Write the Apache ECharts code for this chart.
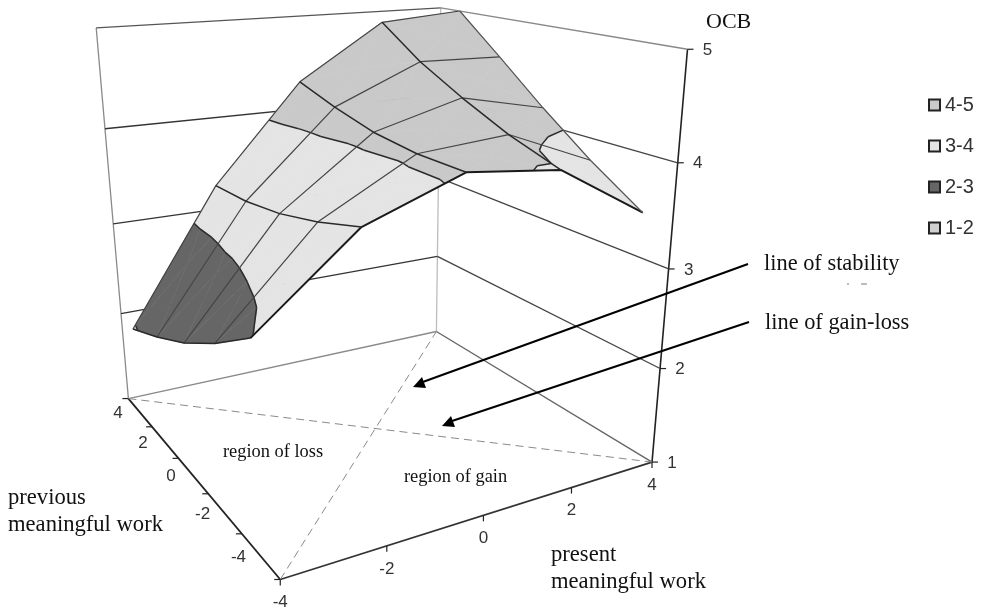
<!DOCTYPE html>
<html><head><meta charset="utf-8">
<style>html,body{margin:0;background:#fff}#c{width:985px;height:611px}</style>
<script src="https://cdn.jsdelivr.net/npm/echarts@6/dist/echarts.min.js"></script>
</head><body><div id="c"></div>
<script>
// ---- data ----
const presentValues = [-4, -2, 0, 2, 4];
const previousValues = [-4, -2, 0, 2, 4];
const ocbAtPrevMinus4 = [2.98, 3.74, 4.07, 3.97, 3.44];
const ocbAtPrevMinus2 = [2.65, 3.58, 4.07, 4.14, 3.78];
const ocbAtPrev0 = [2.37, 3.46, 4.12, 4.36, 4.17];
const ocbAtPrev2 = [2.15, 3.39, 4.23, 4.61, 4.59];
const ocbAtPrev4 = [1.96, 3.37, 4.37, 4.93, 5.00];
const ocbRows = [ocbAtPrevMinus4, ocbAtPrevMinus2, ocbAtPrev0, ocbAtPrev2, ocbAtPrev4];
const ocbTicks = [1, 2, 3, 4, 5];
const bandNames = ['4-5', '3-4', '2-3', '1-2'];
const bandLow = [4, 3, 2, 1];
const bandHigh = [5.01, 4, 3, 2];
const bandColors = ['#c9c9c9', '#e4e4e4', '#666666', '#cfcfcf'];

// ---- the view: a fixed perspective camera of the 3-D box ----
const cam = [48.07798, -10.16097, -10.93605, 375.8314, -2.15006, -3.91499, -95.99798, 512.63476, 0.01951, 0.03335, -0.02773];
function project(p) {
  const d = cam[8] * p[0] + cam[9] * p[1] + cam[10] * p[2] + 1;
  return [(cam[0] * p[0] + cam[1] * p[1] + cam[2] * p[2] + cam[3]) / d,
          (cam[4] * p[0] + cam[5] * p[1] + cam[6] * p[2] + cam[7]) / d];
}
// the previous-work axis is a category axis: five bands, values sit in the band centres
const bandPos = v => v * 0.8;
const vertex = (i, j) => [presentValues[i], bandPos(previousValues[j]), ocbRows[j][i]];

// triangles of a cell, fanned from its centre
function cellTriangles(i, j) {
  const q = [vertex(i, j), vertex(i + 1, j), vertex(i + 1, j + 1), vertex(i, j + 1)];
  const c = [0, 1, 2].map(k => (q[0][k] + q[1][k] + q[2][k] + q[3][k]) / 4);
  return q.map((a, k) => [a, q[(k + 1) % 4], c]);
}
const lerp = (a, b, t) => [a[0] + (b[0] - a[0]) * t, a[1] + (b[1] - a[1]) * t, a[2] + (b[2] - a[2]) * t];
function clip(poly, level, keepAbove) {
  const out = [], inside = p => keepAbove ? p[2] >= level : p[2] <= level;
  poly.forEach((a, k) => {
    const b = poly[(k + 1) % poly.length];
    if (inside(a)) out.push(a);
    if (inside(a) !== inside(b)) out.push(lerp(a, b, (level - a[2]) / (b[2] - a[2])));
  });
  return out;
}
const cells = [];
for (let j = 0; j < 4; j++) for (let i = 0; i < 4; i++) cells.push([i, j]);

function bandSeries(k) {
  return {
    type: 'custom', name: bandNames[k], coordinateSystem: 'none', silent: true, z: 3, animation: false,
    itemStyle: { color: bandColors[k], borderColor: '#222', borderWidth: 2 },
    data: cells,
    renderItem(params, api) {
      const children = [];
      cellTriangles(api.value(0), api.value(1)).forEach(t => {
        const poly = clip(clip(t, bandLow[k], true), bandHigh[k], false);
        if (poly.length > 2) children.push({
          type: 'polygon', shape: { points: poly.map(project) },
          style: { fill: bandColors[k], stroke: bandColors[k], lineWidth: 0.6 }
        });
      });
      return { type: 'group', children };
    }
  };
}
// contour lines between the bands
const contourLevels = [2, 3, 4];
const contourSeries = {
  type: 'custom', name: 'contours', coordinateSystem: 'none', silent: true, z: 4, animation: false, data: cells,
  renderItem(params, api) {
    const children = [];
    cellTriangles(api.value(0), api.value(1)).forEach(t => contourLevels.forEach(L => {
      const pts = [];
      t.forEach((a, k) => {
        const b = t[(k + 1) % 3];
        if ((a[2] - L) * (b[2] - L) < 0) pts.push(project(lerp(a, b, (L - a[2]) / (b[2] - a[2]))));
      });
      if (pts.length === 2) children.push({ type: 'polyline', shape: { points: pts }, style: { fill: null, stroke: '#2a2a2a', lineWidth: 1.5 } });
    }));
    return { type: 'group', children };
  }
};
// mesh lines of the surface
const meshLines = [];
presentValues.forEach((_, j) => meshLines.push(['row', j]));
presentValues.forEach((_, i) => meshLines.push(['col', i]));
const meshSeries = {
  type: 'custom', name: 'mesh', coordinateSystem: 'none', silent: true, z: 5, animation: false,
  data: meshLines.map((m, n) => [n]),
  renderItem(params) {
    const [kind, n] = meshLines[params.dataIndex];
    const pts = presentValues.map((_, k) => project(kind === 'row' ? vertex(k, n) : vertex(n, k)));
    let stroke = '#444', lineWidth = 1.2;
    if (kind === 'col') { stroke = '#2a2a2a'; lineWidth = 1.5; }
    if (kind === 'row' && n === 0) { stroke = '#1a1a1a'; lineWidth = 2; }
    if (kind === 'col' && n === 4) { stroke = '#555'; lineWidth = 1.2; }
    return { type: 'polyline', shape: { points: pts }, style: { fill: null, stroke, lineWidth, lineJoin: 'round' } };
  }
};
// the box: walls, floor, axes
const boxLines = [
  // world from, world to, colour, width, dashed
  [[-4, 4, 1], [-4, 4, 5], '#8a8a8a', 1.3],
  [[4, 4, 1], [4, 4, 5], '#bdbdbd', 1.3],
  [[4, -4, 1], [4, -4, 5], '#222', 1.6],
  [[-4, -4, 1], [-4, 4, 1], '#222', 1.8],
  [[-4, -4, 1], [4, -4, 1], '#333', 1.8],
  [[-4, 4, 1], [4, 4, 1], '#8a8a8a', 1.4],
  [[4, 4, 1], [4, -4, 1], '#666', 1.4],
  [[-4, 4, 1], [4, -4, 1], '#8a8a8a', 1, true],
  [[-4, -4, 1], [4, 4, 1], '#8a8a8a', 1, true]
];
[2, 3, 4, 5].forEach(z => {
  boxLines.push([[-4, 4, z], [4, 4, z], z === 5 ? '#555' : '#333', 1.3]);
  boxLines.push([[4, 4, z], [4, -4, z], z === 5 ? '#888' : '#444', 1.3]);
});
const boxSeries = {
  type: 'custom', name: 'box', coordinateSystem: 'none', silent: true, z: 2, animation: false,
  data: boxLines.map((b, n) => [n]),
  renderItem(params) {
    const b = boxLines[params.dataIndex], a = project(b[0]), c = project(b[1]);
    return { type: 'line', shape: { x1: a[0], y1: a[1], x2: c[0], y2: c[1] },
      style: { stroke: b[2], lineWidth: b[3], lineDash: b[4] ? [8, 5] : null } };
  }
};
// ticks and tick labels
const prevBandEdges = [-4, -2.4, -0.8, 0.8, 2.4, 4];
const tickItems = [];
presentValues.forEach(v => tickItems.push({ at: [v, -4, 1], dx: 0, dy: 6, label: String(v), lx: 0, ly: 23 }));
prevBandEdges.forEach(v => tickItems.push({ at: [-4, v, 1], dx: -6, dy: 0 }));
previousValues.forEach(v => tickItems.push({ at: [-4, bandPos(v), 1], label: String(v), lx: -22, ly: 1 }));
ocbTicks.forEach(v => tickItems.push({ at: [4, -4, v], dx: 6, dy: 0, label: String(v), lx: 20, ly: 1 }));
const tickSeries = {
  type: 'custom', name: 'ticks', coordinateSystem: 'none', silent: true, z: 6, animation: false,
  data: tickItems.map((b, n) => [n]),
  renderItem(params) {
    const t = tickItems[params.dataIndex], p = project(t.at), children = [];
    if (t.dx !== undefined) children.push({ type: 'line', shape: { x1: p[0], y1: p[1], x2: p[0] + t.dx, y2: p[1] + t.dy }, style: { stroke: '#222', lineWidth: 1.2 } });
    if (t.label !== undefined) children.push({ type: 'text', x: p[0] + t.lx, y: p[1] + t.ly,
      style: { text: t.label, fill: '#333', font: '17px "Liberation Sans"', textAlign: 'center', textVerticalAlign: 'middle' } });
    return { type: 'group', children };
  }
};
// annotations
const serif = size => size + 'px "Liberation Serif"';
const notes = [
  ['OCB', 706, 22, 22], ['previous', 8, 498, 22.6], ['meaningful work', 8, 525, 22.6],
  ['present', 551, 555, 22.6], ['meaningful work', 551, 582, 22.6],
  ['line of stability', 764, 264, 22.4], ['line of gain-loss', 765, 323, 22.4],
  ['region of loss', 223, 452, 18.4], ['region of gain', 404, 477, 18.4]
];
const arrows = [
  { from: [748, 264], to: [420, 383], head: [[413, 387], [422, 377], [426, 388]] },
  { from: [749, 322], to: [449, 422], head: [[442, 426], [451, 416], [455, 427]] }
];
const graphic = [];
notes.forEach(n => graphic.push({ type: 'text', x: n[1], y: n[2], z: 20, silent: true,
  style: { text: n[0], fill: '#111', font: serif(n[3]), textAlign: 'left', textVerticalAlign: 'middle' } }));
arrows.forEach(a => {
  graphic.push({ type: 'line', z: 20, silent: true, shape: { x1: a.from[0], y1: a.from[1], x2: a.to[0], y2: a.to[1] }, style: { stroke: '#000', lineWidth: 2 } });
  graphic.push({ type: 'polygon', z: 20, silent: true, shape: { points: a.head }, style: { fill: '#000' } });
});
[[847, 849], [861, 867]].forEach(s => graphic.push({ type: 'line', z: 20, silent: true, shape: { x1: s[0], y1: 284, x2: s[1], y2: 284 }, style: { stroke: '#777', lineWidth: 1 } }));

const chart = echarts.init(document.getElementById('c'), null, { renderer: 'canvas' });
chart.setOption({
  animation: false,
  backgroundColor: '#fff',
  legend: {
    orient: 'vertical', left: 928, top: 95, itemWidth: 11, itemHeight: 11, itemGap: 21, padding: 0, icon: 'rect',
    data: bandNames, selectedMode: false,
    textStyle: { fontFamily: 'Liberation Sans', fontSize: 20, color: '#333', padding: [0, 0, 0, 0] }
  },
  graphic,
  series: [boxSeries, ...bandNames.map((_, k) => bandSeries(k)), contourSeries, meshSeries, tickSeries]
});
</script></body></html>
